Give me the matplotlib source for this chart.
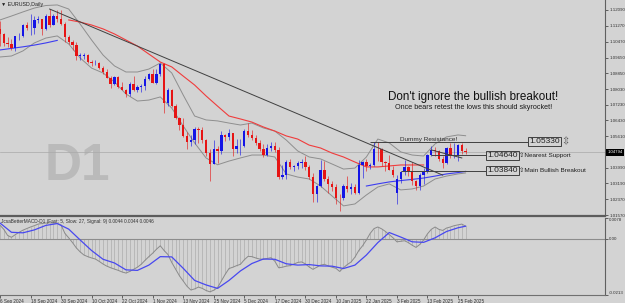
import numpy as np
import matplotlib
matplotlib.use("Agg")
import matplotlib.pyplot as plt
from matplotlib.transforms import blended_transform_factory

plt.rcParams['font.family'] = ['Liberation Sans', 'DejaVu Sans']

# EURUSD daily, 6 Sep 2024 .. 27 Feb 2025 (bar index 0..122)
opens = [1.1112, 1.1085, 1.1040, 1.1035, 1.1013, 1.1075, 1.1075, 1.1132, 1.1115, 1.1117,
         1.1160, 1.1163, 1.1110, 1.1180, 1.1133, 1.1177, 1.1165, 1.1135, 1.1068, 1.1045,
         1.1030, 1.0975, 1.0975, 1.0978, 1.0940, 1.0935, 1.0937, 1.0910, 1.0890, 1.0862,
         1.0830, 1.0867, 1.0815, 1.0798, 1.0780, 1.0827, 1.0797, 1.0815, 1.0818, 1.0855,
         1.0883, 1.0834, 1.0882, 1.0930, 1.0730, 1.0800, 1.0718, 1.0655, 1.0620, 1.0564,
         1.0530, 1.0541, 1.0598, 1.0595, 1.0542, 1.0474, 1.0418, 1.0495, 1.0488, 1.0567,
         1.0556, 1.0577, 1.0497, 1.0511, 1.0511, 1.0588, 1.0567, 1.0554, 1.0527, 1.0497,
         1.0466, 1.0500, 1.0513, 1.0491, 1.0352, 1.0364, 1.0430, 1.0405, 1.0407, 1.0422,
         1.0427, 1.0405, 1.0354, 1.0265, 1.0308, 1.0390, 1.0342, 1.0318, 1.0300, 1.0244,
         1.0243, 1.0307, 1.0293, 1.0300, 1.0272, 1.0416, 1.0430, 1.0408, 1.0414, 1.0495,
         1.0494, 1.0429, 1.0423, 1.0390, 1.0270, 1.0344, 1.0378, 1.0403, 1.0383, 1.0330,
         1.0307, 1.0362, 1.0380, 1.0464, 1.0491, 1.0484, 1.0446, 1.0425, 1.0503, 1.0459,
         1.0464, 1.0514, 1.0486]
highs = [1.1155, 1.1090, 1.1070, 1.1060, 1.1075, 1.1092, 1.1136, 1.1148, 1.1190, 1.1180,
         1.1180, 1.1165, 1.1190, 1.1214, 1.1190, 1.1210, 1.1209, 1.1150, 1.1083, 1.1053,
         1.1046, 1.0987, 1.0990, 1.0983, 1.0955, 1.0950, 1.0940, 1.0920, 1.0907, 1.0870,
         1.0870, 1.0870, 1.0840, 1.0805, 1.0838, 1.0870, 1.0823, 1.0828, 1.0870, 1.0888,
         1.0905, 1.0905, 1.0937, 1.0937, 1.0810, 1.0803, 1.0725, 1.0660, 1.0653, 1.0582,
         1.0567, 1.0608, 1.0610, 1.0610, 1.0548, 1.0497, 1.0540, 1.0509, 1.0587, 1.0571,
         1.0597, 1.0580, 1.0545, 1.0545, 1.0597, 1.0629, 1.0594, 1.0567, 1.0540, 1.0524,
         1.0523, 1.0532, 1.0533, 1.0507, 1.0412, 1.0442, 1.0444, 1.0413, 1.0433, 1.0445,
         1.0458, 1.0413, 1.0375, 1.0313, 1.0437, 1.0435, 1.0359, 1.0331, 1.0314, 1.0267,
         1.0316, 1.0355, 1.0320, 1.0315, 1.0437, 1.0435, 1.0445, 1.0422, 1.0533, 1.0532,
         1.0500, 1.0436, 1.0467, 1.0410, 1.0360, 1.0384, 1.0442, 1.0408, 1.0430, 1.0335,
         1.0375, 1.0400, 1.0470, 1.0513, 1.0505, 1.0490, 1.0458, 1.0505, 1.0528, 1.0528,
         1.0522, 1.0527, 1.0500]
lows = [1.1026, 1.1026, 1.1017, 1.1002, 1.0998, 1.1053, 1.1070, 1.1108, 1.1080, 1.1088,
        1.1140, 1.1083, 1.1105, 1.1122, 1.1130, 1.1150, 1.1130, 1.1046, 1.1035, 1.1006,
        1.0951, 1.0954, 1.0960, 1.0937, 1.0920, 1.0925, 1.0905, 1.0880, 1.0860, 1.0810,
        1.0825, 1.0810, 1.0797, 1.0761, 1.0770, 1.0795, 1.0790, 1.0790, 1.0800, 1.0850,
        1.0833, 1.0830, 1.0870, 1.0682, 1.0715, 1.0710, 1.0650, 1.0595, 1.0560, 1.0497,
        1.0510, 1.0522, 1.0525, 1.0525, 1.0462, 1.0332, 1.0418, 1.0425, 1.0472, 1.0536,
        1.0540, 1.0460, 1.0474, 1.0467, 1.0505, 1.0555, 1.0540, 1.0514, 1.0487, 1.0454,
        1.0459, 1.0487, 1.0480, 1.0343, 1.0344, 1.0344, 1.0392, 1.0385, 1.0395, 1.0400,
        1.0388, 1.0342, 1.0226, 1.0225, 1.0300, 1.0330, 1.0272, 1.0282, 1.0216, 1.0178,
        1.0236, 1.0273, 1.0267, 1.0266, 1.0265, 1.0347, 1.0384, 1.0392, 1.0410, 1.0435,
        1.0411, 1.0382, 1.0386, 1.0354, 1.0214, 1.0320, 1.0365, 1.0357, 1.0311, 1.0285,
        1.0287, 1.0317, 1.0375, 1.0458, 1.0462, 1.0435, 1.0400, 1.0418, 1.0450, 1.0450,
        1.0433, 1.0472, 1.0470]
closes = [1.1085, 1.1040, 1.1035, 1.1013, 1.1075, 1.1075, 1.1132, 1.1115, 1.1117, 1.1160,
          1.1163, 1.1110, 1.1180, 1.1133, 1.1177, 1.1165, 1.1135, 1.1068, 1.1045, 1.1030,
          1.0975, 1.0975, 1.0978, 1.0940, 1.0935, 1.0937, 1.0910, 1.0890, 1.0862, 1.0830,
          1.0867, 1.0815, 1.0798, 1.0780, 1.0827, 1.0797, 1.0815, 1.0818, 1.0855, 1.0883,
          1.0834, 1.0882, 1.0930, 1.0730, 1.0800, 1.0718, 1.0655, 1.0620, 1.0564, 1.0530,
          1.0541, 1.0598, 1.0595, 1.0542, 1.0474, 1.0418, 1.0495, 1.0488, 1.0567, 1.0556,
          1.0577, 1.0497, 1.0511, 1.0511, 1.0588, 1.0567, 1.0554, 1.0527, 1.0497, 1.0466,
          1.0500, 1.0513, 1.0491, 1.0352, 1.0364, 1.0430, 1.0405, 1.0407, 1.0422, 1.0427,
          1.0405, 1.0354, 1.0265, 1.0308, 1.0390, 1.0342, 1.0318, 1.0300, 1.0244, 1.0243,
          1.0307, 1.0293, 1.0300, 1.0272, 1.0416, 1.0430, 1.0408, 1.0414, 1.0495, 1.0494,
          1.0429, 1.0423, 1.0390, 1.0362, 1.0344, 1.0378, 1.0403, 1.0383, 1.0330, 1.0307,
          1.0362, 1.0380, 1.0464, 1.0491, 1.0484, 1.0446, 1.0425, 1.0503, 1.0459, 1.0464,
          1.0514, 1.0486, 1.0479]

# indicator lines every third bar
smp = [0, 3, 6, 9, 12, 15, 18, 21, 24, 27, 30, 33, 36, 39, 42, 45, 48, 51, 54, 57, 60,
       63, 66, 69, 72, 75, 78, 81, 84, 87, 90, 93, 96, 99, 102, 105, 108, 111, 114, 117, 120, 122]
bb_upper = [1.1158, 1.1178, 1.1199, 1.1219, 1.1232, 1.1235, 1.1214, 1.1137, 1.1055, 1.0978,
            1.0922, 1.0891, 1.0891, 1.0906, 1.0937, 1.0886, 1.0773, 1.0665, 1.0645, 1.0640,
            1.0629, 1.0619, 1.0629, 1.0604, 1.0588, 1.0542, 1.0486, 1.0455, 1.0445, 1.0419,
            1.0393, 1.0398, 1.0455, 1.0547, 1.0527, 1.0481, 1.0465, 1.0460, 1.0522, 1.0558,
            1.0568, 1.0564]
bb_lower = [1.0968, 1.0973, 1.0999, 1.1040, 1.1065, 1.1076, 1.1035, 1.0963, 1.0911, 1.0886,
            1.0840, 1.0778, 1.0742, 1.0747, 1.0763, 1.0706, 1.0614, 1.0527, 1.0450, 1.0415,
            1.0434, 1.0450, 1.0465, 1.0465, 1.0455, 1.0368, 1.0352, 1.0342, 1.0306, 1.0255,
            1.0204, 1.0214, 1.0260, 1.0301, 1.0317, 1.0286, 1.0291, 1.0306, 1.0342, 1.0357,
            1.0368, 1.0373]
nan = np.nan
ma_red = [nan, nan, nan, nan, nan, nan, 1.1158, 1.1147, 1.1132, 1.1112,
          1.1086, 1.1055, 1.1024, 1.0983, 1.0942, 1.0917, 1.0870, 1.0824, 1.0768, 1.0716,
          1.0665, 1.0650, 1.0634, 1.0609, 1.0588, 1.0563, 1.0547, 1.0516, 1.0501, 1.0475,
          1.0455, 1.0429, 1.0404, 1.0404, 1.0409, 1.0414, 1.0414, 1.0414, nan, nan,
          nan, nan]
ma_blue = [1.1004, 1.1012, 1.1020, 1.1029, 1.1040, 1.1053, nan, nan, nan, nan,
           nan, nan, nan, nan, nan, nan, nan, nan, nan, nan,
           nan, nan, nan, nan, nan, nan, nan, nan, nan, nan,
           nan, nan, 1.0306, 1.0317, 1.0327, 1.0334, 1.0340, 1.0347, 1.0357, 1.0368,
           1.0375, 1.0381]

# MACD main per bar, signal every third bar
macd = [0.0051, 0.0035, 0.0012, 0.0005, 0.0015, 0.0024, 0.0032, 0.0038, 0.0044, 0.0049,
        0.0055, 0.0057, 0.0059, 0.0060, 0.0059, 0.0057, 0.0052, 0.0020, 0.0003, -0.0015,
        -0.0035, -0.0050, -0.0062, -0.0068, -0.0073, -0.0077, -0.0086, -0.0096, -0.0104, -0.0110,
        -0.0115, -0.0120, -0.0126, -0.0130, -0.0124, -0.0116, -0.0108, -0.0097, -0.0082, -0.0068,
        -0.0055, -0.0040, -0.0027, -0.0045, -0.0060, -0.0090, -0.0115, -0.0140, -0.0160, -0.0180,
        -0.0194, -0.0190, -0.0183, -0.0188, -0.0196, -0.0201, -0.0195, -0.0185, -0.0160, -0.0135,
        -0.0113, -0.0108, -0.0102, -0.0097, -0.0080, -0.0067, -0.0068, -0.0073, -0.0077, -0.0078,
        -0.0075, -0.0072, -0.0085, -0.0110, -0.0108, -0.0104, -0.0102, -0.0096, -0.0090, -0.0088,
        -0.0095, -0.0107, -0.0116, -0.0108, -0.0100, -0.0097, -0.0103, -0.0108, -0.0112, -0.0124,
        -0.0110, -0.0098, -0.0088, -0.0070, -0.0045, -0.0027, -0.0005, 0.0020, 0.0038, 0.0044,
        0.0037, 0.0027, 0.0015, 0.0003, -0.0012, -0.0010, -0.0008, -0.0015, -0.0025, -0.0033,
        -0.0022, -0.0005, 0.0018, 0.0035, 0.0044, 0.0035, 0.0031, 0.0040, 0.0044, 0.0049,
        0.0052, 0.0055, 0.0047]
signal = [0.0059, 0.0024, 0.0022, 0.0033, 0.0050, 0.0057, 0.0036, -0.0005, -0.0045, -0.0078,
          -0.0092, -0.0118, -0.0120, -0.0100, -0.0068, -0.0069, -0.0112, -0.0158, -0.0175, -0.0188,
          -0.0158, -0.0122, -0.0094, -0.0077, -0.0078, -0.0095, -0.0100, -0.0098, -0.0103, -0.0104,
          -0.0113, -0.0100, -0.0062, -0.0015, 0.0023, 0.0006, -0.0012, -0.0014, 0.0003, 0.0027,
          0.0041, 0.0047]

# drawn objects
trend_idx = [13, 116]
trend_px = [1.1214, 1.0362]
short_idx = [113, 121]
short_px = [1.0491, 1.0450]
levels = [1.05330, 1.04640, 1.03840]
level_start = [97, 113, 105]
level_box = [138.4, 127.4, 127.4]
level_notes = ["\u21f3", "\u21e7Nearest Support", "\u21e7Main Bullish Breakout"]
bid = 1.04794

price_ticks = [1.12090, 1.11270, 1.10470, 1.09650, 1.08850, 1.08030, 1.07230,
               1.06430, 1.05610, 1.03990, 1.03190, 1.02370, 1.01570]
date_idx = list(range(0, 121, 8))
date_labels = ["6 Sep 2024", "18 Sep 2024", "30 Sep 2024", "10 Oct 2024", "22 Oct 2024",
               "1 Nov 2024", "13 Nov 2024", "25 Nov 2024", "5 Dec 2024", "17 Dec 2024",
               "30 Dec 2024", "10 Jan 2025", "22 Jan 2025", "3 Feb 2025", "13 Feb 2025",
               "25 Feb 2025"]

BG = '#d3d3d3'
W, H = 625, 303


def rect(x0, y0, x1, y1):
    # pixel box -> figure fraction
    return [x0 / W, 1 - y1 / H, (x1 - x0) / W, (y1 - y0) / H]


def bx(px):
    # pixel column -> bar index
    return (px + 0.56) / 3.82


fig = plt.figure(figsize=(6.25, 3.03), dpi=100)
fig.patch.set_facecolor(BG)
ax = fig.add_axes(rect(0, 0, 605, 216))
ax2 = fig.add_axes(rect(0, 218, 605, 295), sharex=ax)
for a in (ax, ax2):
    a.set_facecolor(BG)
    a.spines['left'].set_visible(False)
    a.spines['top'].set_visible(False)
    a.spines['right'].set_color('#606060')
    a.spines['right'].set_linewidth(0.8)
ax.spines['bottom'].set_color('#5c5c5c')
ax.spines['bottom'].set_linewidth(1.6)
ax2.spines['bottom'].set_color('#707070')
ax2.spines['bottom'].set_linewidth(0.8)

ax.set_xlim(bx(0), bx(605))
ax.set_ylim(1.01522, 1.12603)
ax2.set_ylim(-0.0213, 0.0078)

# watermark
ax.text(bx(44), 1.0337, "D1", fontsize=37, fontweight='bold', color='#bababa',
        ha='left', va='baseline', zorder=0)

# candles
o = np.array(opens)
c = np.array(closes)
idx = np.arange(len(o))
up = c >= o
cols = np.where(up, '#1414e6', '#e61414')
ax.vlines(idx, lows, highs, colors=cols, lw=0.6, alpha=0.7, zorder=3)
body = np.maximum(np.abs(c - o), 0.00015)
ax.bar(idx, body, bottom=np.minimum(o, c), width=0.62, color=cols, lw=0, zorder=4)

# indicators
ax.plot(smp, bb_upper, color='#8e8e8e', lw=0.7, zorder=2)
ax.plot(smp, bb_lower, color='#8e8e8e', lw=0.7, zorder=2)
ax.plot(smp, ma_red, color='#f03c3c', lw=0.8, zorder=2)
ax.plot(smp, ma_blue, color='#3c3cf0', lw=0.8, zorder=2)

# trend lines and levels
ax.plot(trend_idx, trend_px, color='#404040', lw=0.7, zorder=5)
ax.plot(short_idx, short_px, color='#404040', lw=0.7, zorder=5)
ax.axhline(bid, color='#a9a9a9', lw=0.5, zorder=1)
ax.hlines(levels, level_start, level_box, colors='#404040', lw=0.7, zorder=5)
for lv, x0, note in zip(levels, level_box, level_notes):
    ax.text(x0 + 0.3, lv, f"{lv:.5f}", fontsize=6, color='#202020', ha='left', va='center',
            bbox=dict(boxstyle='square,pad=0.12', fc='none', ec='#404040', lw=0.7), zorder=6)
    nx = x0 + 8.6
    if note == "\u21f3":
        ax.text(nx, lv, note, fontsize=7, color='#505050', ha='left', va='center')
    else:
        ax.text(nx, lv, note, fontsize=4.6, color='#202020', ha='left', va='center')

ax.text(bx(400), 1.0539, "Dummy Resistance!", fontsize=4.6, color='#2a2a2a',
        ha='left', va='baseline', zorder=6)
ax.text(bx(473), 1.0763, "Don't ignore the bullish breakout!", fontsize=8.4,
        color='#111111', ha='center', va='center')
ax.text(bx(474), 1.0711, "Once bears retest the lows this should skyrocket!", fontsize=5.2,
        color='#1a1a1a', ha='center', va='center')
ax.text(0.002, 1 - 4.5 / 216, "\u25bc EURUSD,Daily", transform=ax.transAxes, fontsize=3.8,
        color='#202020', ha='left', va='center')

# price scale
ax.yaxis.tick_right()
ax.set_yticks(price_ticks, [f"{p:.5f}" for p in price_ticks])
ax.tick_params(axis='y', length=2, width=0.5, labelsize=3.2, pad=1, colors='#303030')
ax.tick_params(axis='x', bottom=False, labelbottom=False)
tr = blended_transform_factory(ax.transAxes, ax.transData)
ax.text(1.004, bid, f"{bid:.5f}", transform=tr, fontsize=3.1, color='white', ha='left',
        va='center', bbox=dict(boxstyle='square,pad=0.3', fc='black', ec='none'))

# MACD panel
ax2.vlines(idx, 0, macd, colors='#a8a8a8', lw=0.45)
ax2.axhline(0, color='#8c8c8c', lw=0.8)
ax2.plot(idx, macd, color='#8a8a8a', lw=0.7)
ax2.plot(smp, signal, color='#4848f0', lw=0.9)
ax2.text(0.001, 1 - 4 / 77, "JcsaBetterMACD-D1 (Fast: 5, Slow: 27, Signal: 9) 0.0044 0.0044 0.0046",
         transform=ax2.transAxes, fontsize=3.4, color='#303030', ha='left', va='center')
ax2.yaxis.tick_right()
ax2.set_yticks([-0.0213, 0, 0.0078], ["-0.0213", "0.00", "0.0078"])
ax2.tick_params(axis='y', length=2, width=0.5, labelsize=3.2, pad=1, colors='#303030')
ylbl = ax2.get_yticklabels()
ylbl[0].set_va('bottom')
ylbl[2].set_va('top')
ax2.set_xticks(date_idx, date_labels)
ax2.tick_params(axis='x', length=2, width=0.5, labelsize=3.3, pad=0.8, colors='#303030')
for t in ax2.get_xticklabels():
    t.set_ha('left')

fig.savefig("out.png", dpi=100, facecolor=BG)
